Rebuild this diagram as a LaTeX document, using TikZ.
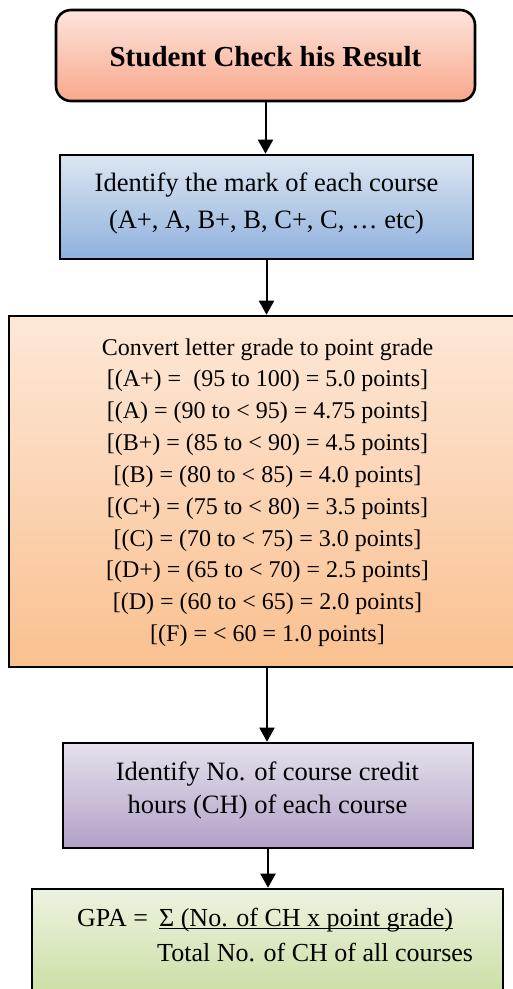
\documentclass[tikz,border=0pt]{standalone}
\usepackage{fontspec}
\setmainfont{Liberation Serif}
\usetikzlibrary{arrows.meta}

\definecolor{startTop}{RGB}{253,228,220}
\definecolor{startBot}{RGB}{249,168,140}
\definecolor{markTop}{RGB}{220,230,242}
\definecolor{markBot}{RGB}{142,176,220}
\definecolor{convTop}{RGB}{253,232,216}
\definecolor{convBot}{RGB}{250,192,143}
\definecolor{hourTop}{RGB}{230,224,236}
\definecolor{hourBot}{RGB}{178,161,199}
\definecolor{gpaTop}{RGB}{236,243,224}
\definecolor{gpaBot}{RGB}{198,220,156}

\begin{document}
\begin{tikzpicture}[x=1pt,y=-1pt,
  box/.style={draw=black, line width=2.6pt, inner sep=0pt, anchor=center},
  arr/.style={line width=2pt, -{Triangle[width=15pt,length=14pt]}},
  txt/.style={inner sep=0pt, align=center, text=black}]
\useasboundingbox (0,0) rectangle (513,989);
\clip (0,0) rectangle (513,989);

% boxes of the flow
\node[box, rounded corners=15pt, top color=startTop, bottom color=startBot,
      minimum width=419pt, minimum height=91pt] (b1) at (265.5,55.5) {};
\node[box, top color=markTop, bottom color=markBot,
      minimum width=413pt, minimum height=104pt] (b2) at (266.5,207) {};
\node[box, top color=convTop, bottom color=convBot,
      minimum width=516pt, minimum height=351pt] (b3) at (267,491.5) {};
\node[box, top color=hourTop, bottom color=hourBot,
      minimum width=410pt, minimum height=105pt] (b4) at (268,795.5) {};
\node[box, top color=gpaTop, bottom color=gpaBot,
      minimum width=471pt, minimum height=121pt] (b5) at (267.5,949.5) {};

% texts
\node[txt, font=\fontsize{29}{34}\selectfont\bfseries] (t1) at (265.5,57)
  {Student Check his Result};
\node[txt, font=\fontsize{26.5}{37}\selectfont] (t2) at (266.5,203.5)
  {Identify the mark of each course\\(A+, A, B+, B, C+, C, … etc)};
\foreach \line [count=\i from 0] in {
    {Convert letter grade to point grade},
    {[(A+) =~ (95 to 100) = 5.0 points]},
    {[(A) = (90 to < 95) = 4.75 points]},
    {[(B+) = (85 to < 90) = 4.5 points]},
    {[(B) = (80 to < 85) = 4.0 points]},
    {[(C+) = (75 to < 80) = 3.5 points]},
    {[(C) = (70 to < 75) = 3.0 points]},
    {[(D+) = (65 to < 70) = 2.5 points]},
    {[(D) = (60 to < 65) = 2.0 points]},
    {[(F) = < 60 = 1.0 points]}}
  \node[txt, anchor=base, font=\fontsize{24}{30}\selectfont]
    (t3-\i) at (267.5,355+31.85*\i) {\line};
\node[txt, font=\fontsize{26.5}{33}\selectfont] (t4) at (267.5,790.5)
  {Identify No. of course credit\\hours (CH) of each course};

\node[txt, anchor=base west, font=\fontsize{26}{32}\selectfont] (gpa) at (77,926) {GPA =};
\node[txt, anchor=base west, font=\fontsize{26}{32}\selectfont] (num) at (159,926)
  {Σ (No. of CH x point grade)};
\node[txt, anchor=base west, font=\fontsize{26}{32}\selectfont] (den) at (157,961)
  {Total No. of CH of all courses};
\draw[line width=1.3pt] ([yshift=-2.5pt]num.base west) -- ([yshift=-2.5pt]num.base east);

% connectors
\draw[arr] (b1.south) -- (b1.south |- b2.north);
\draw[arr] (b2.south) -- (b2.south |- b3.north);
\draw[arr] (b3.south) -- (b3.south |- b4.north);
\draw[arr] (b4.south) -- (b4.south |- b5.north);
\end{tikzpicture}
\end{document}
